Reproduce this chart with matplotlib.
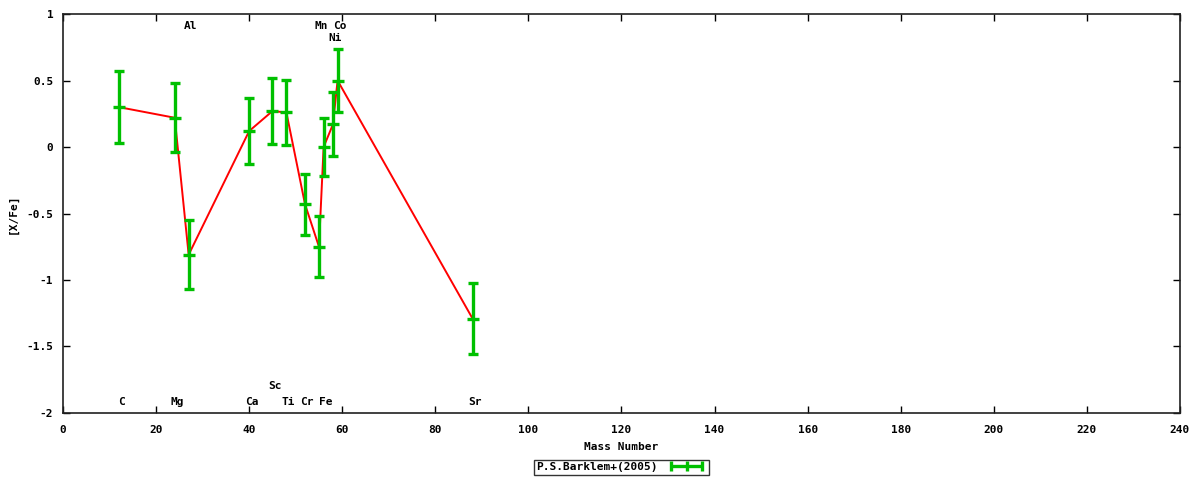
import numpy as np
import matplotlib
matplotlib.use("Agg")
import matplotlib.pyplot as plt
from matplotlib.ticker import FuncFormatter, MultipleLocator
from matplotlib.legend_handler import HandlerErrorbar

# element abundances
elements = ["C", "Mg", "Al", "Ca", "Sc", "Ti", "Cr", "Mn", "Fe", "Ni", "Co", "Sr"]
mass = [12, 24, 27, 40, 45, 48, 52, 55, 56, 58, 59, 88]
xfe = [0.30, 0.22, -0.81, 0.12, 0.27, 0.26, -0.43, -0.75, 0.00, 0.17, 0.50, -1.29]
err = [0.27, 0.26, 0.26, 0.245, 0.25, 0.245, 0.23, 0.23, 0.22, 0.24, 0.24, 0.27]

# where the element name goes: top/bottom and row
label_top = ["Al", "Mn", "Co", "Ni"]
label_row2 = ["Sc", "Ni"]

plt.rcParams['font.family'] = ['DejaVu Sans Mono']
plt.rcParams['font.weight'] = 'bold'
plt.rcParams['axes.unicode_minus'] = False

def main():
    fig = plt.figure(figsize=(12, 4.8), dpi=100)
    ax = fig.add_axes([0.0525, 0.1396, 0.9308, 0.8312])

    ax.plot(mass, xfe, color="#ff0000", lw=1.4, zorder=2)
    ax.errorbar(mass, xfe, yerr=err, fmt="_", color="#00c000", ecolor="#00c000",
                elinewidth=2.4, capsize=3.6, capthick=2.4, ms=8.5, mew=2.4, zorder=3)

    # legend proxy, horizontal like gnuplot's key sample
    proxy = ax.errorbar([np.nan], [np.nan], xerr=[1], fmt="|", color="#00c000",
                        elinewidth=2.4, capsize=3.6, capthick=2.4, ms=7, mew=2.4,
                        label="P.S.Barklem+(2005)")

    for el, m in zip(elements, mass):
        if el in label_top:
            y = 0.91 if el not in label_row2 else 0.82
        else:
            y = -1.92 if el not in label_row2 else -1.80
        ax.text(m + 0.5, y, el, ha="center", va="center", fontsize=8, fontweight="bold")

    ax.set_xlim(0, 240)
    ax.set_ylim(-2, 1)
    ax.xaxis.set_major_locator(MultipleLocator(20))
    ax.yaxis.set_major_locator(MultipleLocator(0.5))
    ax.yaxis.set_major_formatter(FuncFormatter(lambda v, p: "%g" % v))
    ax.tick_params(direction="in", top=True, right=True, length=5, width=1,
                   labelsize=8)
    ax.tick_params(axis="x", pad=9)
    ax.tick_params(axis="y", pad=7)
    for s in ax.spines.values():
        s.set_linewidth(1.2)
        s.set_color("#202020")

    ax.set_xlabel("Mass Number", fontsize=8, fontweight="bold", labelpad=5)
    ax.set_ylabel("[X/Fe]", fontsize=8, fontweight="bold", labelpad=6)

    leg = ax.legend(handles=[proxy], loc="upper center", bbox_to_anchor=(0.5, -0.118),
                    markerfirst=False, fontsize=8, frameon=True, fancybox=False,
                    handlelength=3.6, borderpad=0.2, handletextpad=0.8,
                    borderaxespad=0,
                    handler_map={type(proxy): HandlerErrorbar(xerr_size=1.4)})
    leg.get_frame().set_edgecolor("black")
    leg.get_frame().set_linewidth(1.0)

    fig.savefig("out.png", dpi=100)


if __name__ == "__main__":
    main()
